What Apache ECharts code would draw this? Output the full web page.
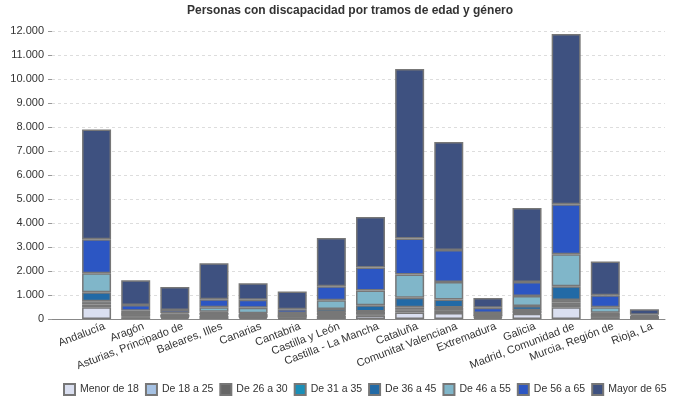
<!DOCTYPE html>
<html lang="es">
<head>
    <meta charset="UTF-8">
    <title>Personas con discapacidad</title>
    <style>
        html, body {margin: 0; padding: 0; background: #fff;}
    </style>
</head>
<body>
<div id="main" style="width: 700px;height: 400px"></div>
<script src="https://cdn.jsdelivr.net/npm/echarts@6/dist/echarts.min.js"></script>
<script>
    // comunidades autonomas
    const categories = ['Andalucía', 'Aragón', 'Asturias, Principado de', 'Baleares, Illes', 'Canarias',
        'Cantabria', 'Castilla y León', 'Castilla - La Mancha', 'Cataluña', 'Comunitat Valenciana',
        'Extremadura', 'Galicia', 'Madrid, Comunidad de', 'Murcia, Región de', 'Rioja, La']

    // tramos de edad
    const menor18 = [490, 70, 60, 130, 60, 30, 130, 150, 270, 250, 50, 220, 490, 70, 20]
    const de18a25 = [110, 30, 20, 30, 20, 20, 30, 30, 70, 120, 20, 30, 95, 20, 10]
    const de26a30 = [70, 100, 70, 90, 100, 80, 100, 110, 70, 90, 60, 90, 95, 120, 40]
    const de31a35 = [70, 10, 10, 10, 10, 5, 20, 20, 80, 20, 5, 20, 110, 10, 5]
    const de36a45 = [375, 20, 20, 40, 50, 15, 140, 260, 400, 330, 20, 180, 570, 40, 15]
    const de46a55 = [790, 110, 60, 190, 230, 100, 360, 620, 960, 730, 100, 415, 1335, 230, 30]
    const de56a65 = [1420, 240, 140, 330, 330, 160, 580, 960, 1500, 1330, 210, 585, 2090, 500, 55]
    const mayor65 = [4575, 1030, 950, 1500, 690, 740, 2010, 2100, 7070, 4500, 410, 3085, 7090, 1410, 230]

    const seriesNames = ['Menor de 18', 'De 18 a 25', 'De 26 a 30', 'De 31 a 35',
        'De 36 a 45', 'De 46 a 55', 'De 56 a 65', 'Mayor de 65']
    const seriesData = [menor18, de18a25, de26a30, de31a35, de36a45, de46a55, de56a65, mayor65]
    const colors = ['#dadff0', '#a6c2e4', '#666666', '#1a8fb8', '#226aa6', '#80b6c9', '#2c56c3', '#3e5180']

    const font = 'Liberation Sans, Arial, sans-serif'

    /**
     * separador de miles con punto
     */
    function fmt(v) {
        return String(v).replace(/\B(?=(\d{3})+(?!\d))/g, '.')
    }

    let chart = echarts.init(document.getElementById('main'))
    let option = {
        animation: false,
        color: colors,
        textStyle: {fontFamily: font},
        title: {
            text: 'Personas con discapacidad por tramos de edad y género',
            left: 'center',
            top: 0,
            textStyle: {fontSize: 12, fontWeight: 'bold', color: '#333', fontFamily: font}
        },
        legend: {
            top: 378,
            left: 58,
            itemWidth: 11,
            itemHeight: 11,
            itemGap: 6,
            icon: 'rect',
            textStyle: {fontSize: 10.5, color: '#333', fontFamily: font},
            data: seriesNames
        },
        // 0: eje y y rejilla, 1: barras, 2: etiquetas del eje x
        grid: [
            {left: 52, right: 35, top: 31, bottom: 81},
            {left: 77, right: 36, top: 31, bottom: 81},
            {left: 85, right: 28, top: 31, bottom: 81}
        ],
        xAxis: [
            {
                type: 'category', gridIndex: 0, data: categories,
                axisLine: {lineStyle: {color: '#888', width: 1}},
                axisTick: {show: false},
                axisLabel: {show: false}
            },
            {
                type: 'category', gridIndex: 1, data: categories,
                axisLine: {show: false}, axisTick: {show: false}, axisLabel: {show: false}
            },
            {
                type: 'category', gridIndex: 2, data: categories,
                axisLine: {show: false},
                axisTick: {show: false},
                axisLabel: {
                    interval: 0,
                    rotate: 21,
                    margin: 7,
                    fontSize: 11,
                    color: '#333',
                    fontFamily: font
                }
            }
        ],
        yAxis: [
            {
                type: 'value', gridIndex: 0,
                min: 0, max: 12000, interval: 1000,
                axisLine: {show: false},
                axisTick: {show: true, length: 4, lineStyle: {color: '#999'}},
                axisLabel: {
                    fontSize: 11,
                    color: '#333',
                    margin: 8,
                    fontFamily: font,
                    formatter: fmt
                },
                splitLine: {lineStyle: {color: '#ddd', type: [3, 3]}}
            },
            {
                type: 'value', gridIndex: 1, min: 0, max: 12000, interval: 1000,
                axisLine: {show: false}, axisTick: {show: false}, axisLabel: {show: false},
                splitLine: {show: false}
            },
            {
                type: 'value', gridIndex: 2, min: 0, max: 12000, interval: 1000,
                axisLine: {show: false}, axisTick: {show: false}, axisLabel: {show: false},
                splitLine: {show: false}
            }
        ],
        series: seriesNames.map((name, i) => ({
            name: name,
            type: 'bar',
            stack: 'total',
            xAxisIndex: 1,
            yAxisIndex: 1,
            barWidth: 29,
            data: seriesData[i],
            itemStyle: {color: colors[i], borderColor: '#777', borderWidth: 1.5}
        }))
    }
    chart.setOption(option)
</script>
</body>
</html>
